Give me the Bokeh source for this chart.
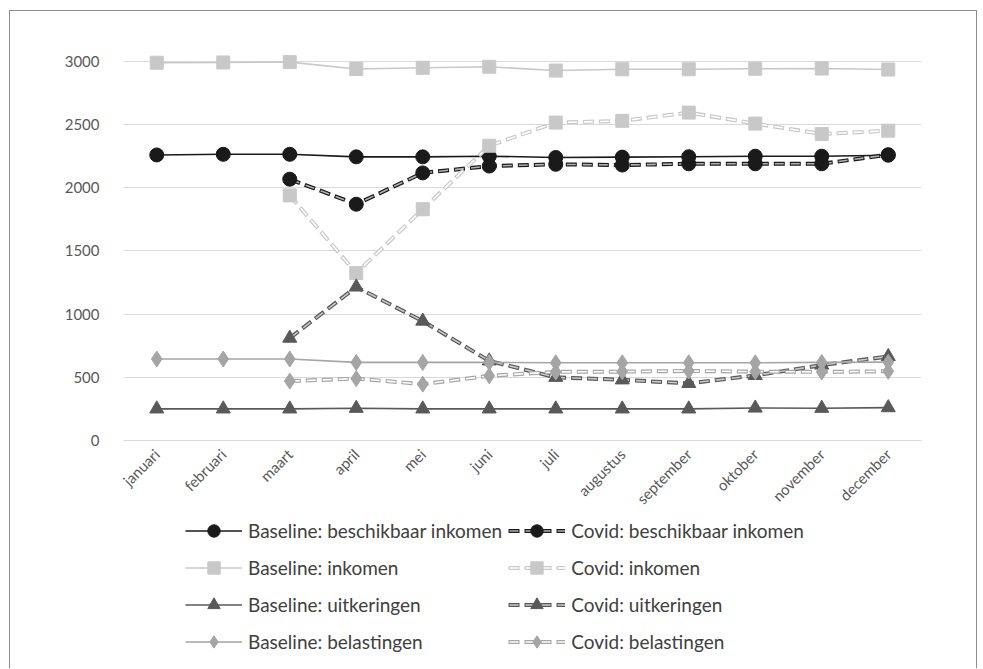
import math
from bokeh.plotting import figure
from bokeh.layouts import column
from bokeh.models import Legend, LegendItem, FixedTicker, Range1d, ColumnDataSource
from bokeh.embed import file_html
from bokeh.resources import INLINE

nan = float("nan")

months = ["januari", "februari", "maart", "april", "mei", "juni", "juli",
          "augustus", "september", "oktober", "november", "december"]

base_besch = [2260, 2265, 2265, 2245, 2245, 2250, 2240, 2243, 2246, 2250, 2250, 2258]
covid_besch = [nan, nan, 2068, 1870, 2118, 2172, 2186, 2180, 2190, 2190, 2190, 2262]
base_inkomen = [2990, 2992, 2995, 2940, 2950, 2958, 2928, 2938, 2938, 2942, 2944, 2936]
covid_inkomen = [nan, nan, 1940, 1325, 1830, 2333, 2516, 2530, 2595, 2508, 2426, 2452]
base_uit = [250, 250, 250, 255, 250, 250, 250, 250, 250, 257, 255, 260]
covid_uit = [nan, nan, 810, 1215, 945, 630, 500, 480, 452, 515, 597, 665]
base_bel = [645, 645, 645, 618, 618, 618, 615, 615, 615, 615, 618, 620]
covid_bel = [nan, nan, 470, 490, 446, 512, 543, 545, 550, 545, 543, 548]

y_ticks = [0, 500, 1000, 1500, 2000, 2500, 3000]

labels_base = ["Baseline: beschikbaar inkomen", "Baseline: inkomen",
               "Baseline: uitkeringen", "Baseline: belastingen"]
labels_covid = ["Covid: beschikbaar inkomen", "Covid: inkomen",
                "Covid: uitkeringen", "Covid: belastingen"]

FONT = "Lato"

p = figure(x_range=months, y_range=Range1d(0, 3150),
           width=966, height=507,
           min_border_left=113, min_border_right=55, min_border_top=31,
           min_border_bottom=78,
           output_backend="svg", toolbar_location=None)
p.outline_line_color = None
p.xgrid.grid_line_color = None
p.ygrid.grid_line_color = "#d9d9d9"
p.ygrid.grid_line_width = 1
p.yaxis.ticker = FixedTicker(ticks=y_ticks)
p.yaxis.axis_line_color = None
p.yaxis.major_tick_line_color = None
p.yaxis.minor_tick_line_color = None
p.yaxis.major_label_standoff = 18
p.xaxis.axis_line_color = "#d9d9d9"
p.xaxis.major_tick_line_color = None
p.xaxis.minor_tick_line_color = None
p.xaxis.major_label_orientation = math.pi / 4
p.xaxis.major_label_standoff = 5
for ax in (p.xaxis, p.yaxis):
    ax.major_label_text_font = FONT
    ax.major_label_text_font_size = "15px"
    ax.major_label_text_color = "#595959"

# legend-only figure below the chart
q = figure(x_range=months, y_range=Range1d(-20, -10),
           width=966, height=150, min_border=0,
           x_axis_location=None, y_axis_location=None,
           output_backend="svg", toolbar_location=None)
q.outline_line_color = None
q.xgrid.grid_line_color = None
q.ygrid.grid_line_color = None
q.background_fill_alpha = 0
q.border_fill_alpha = 0

series = [
    (base_besch, covid_besch, "#1a1a1a", "#b0b0b0", "circle", 14),
    (base_inkomen, covid_inkomen, "#c8c8c8", "#ffffff", "square", 13),
    (base_uit, covid_uit, "#595959", "#c8c8c8", "triangle", 14),
    (base_bel, covid_bel, "#a5a5a5", "#ffffff", "diamond", 16),
]


def add_series(fig, b, c, col, inner, marker, size):
    src_b = ColumnDataSource(dict(x=months, y=b))
    src_c = ColumnDataSource(dict(x=months, y=c))
    lb = fig.line("x", "y", source=src_b, line_color=col, line_width=1.6)
    mb = fig.scatter("x", "y", source=src_b, marker=marker, size=size,
                     fill_color=col, line_color=col)
    lc_out = fig.line("x", "y", source=src_c, line_color=col, line_width=4,
                      line_dash="11 5")
    lc_in = fig.line("x", "y", source=src_c, line_color=inner, line_width=1.6,
                     line_dash="9 7", line_dash_offset=15)
    mc = fig.scatter("x", "y", source=src_c, marker=marker, size=size,
                     fill_color=col, line_color=col)
    return [lb, mb], [lc_out, lc_in, mc]


left_items = []
right_items = []
for i, s in enumerate(series):
    add_series(p, *s)
    rb, rc = add_series(q, *s)
    left_items.append(LegendItem(label=labels_base[i], renderers=rb))
    right_items.append(LegendItem(label=labels_covid[i], renderers=rc))

legend = Legend(items=left_items + right_items, location=(62, 11),
                orientation="vertical", nrows=4)
legend.glyph_width = 57
legend.glyph_height = 31
legend.label_height = 31
legend.spacing = 6
legend.label_standoff = 6
legend.padding = 0
legend.margin = 0
legend.border_line_alpha = 0
legend.background_fill_alpha = 0
legend.label_text_font = FONT
legend.label_text_font_size = "19px"
legend.label_text_color = "#404040"
q.add_layout(legend)

layout = column(p, q, spacing=0,
                styles={"margin-left": "9px", "margin-top": "10px",
                        "border-top": "1px solid #8c8c8c",
                        "border-left": "1px solid #8c8c8c",
                        "border-right": "1px solid #8c8c8c"})

open("out.html", "w").write(file_html(layout, INLINE))
